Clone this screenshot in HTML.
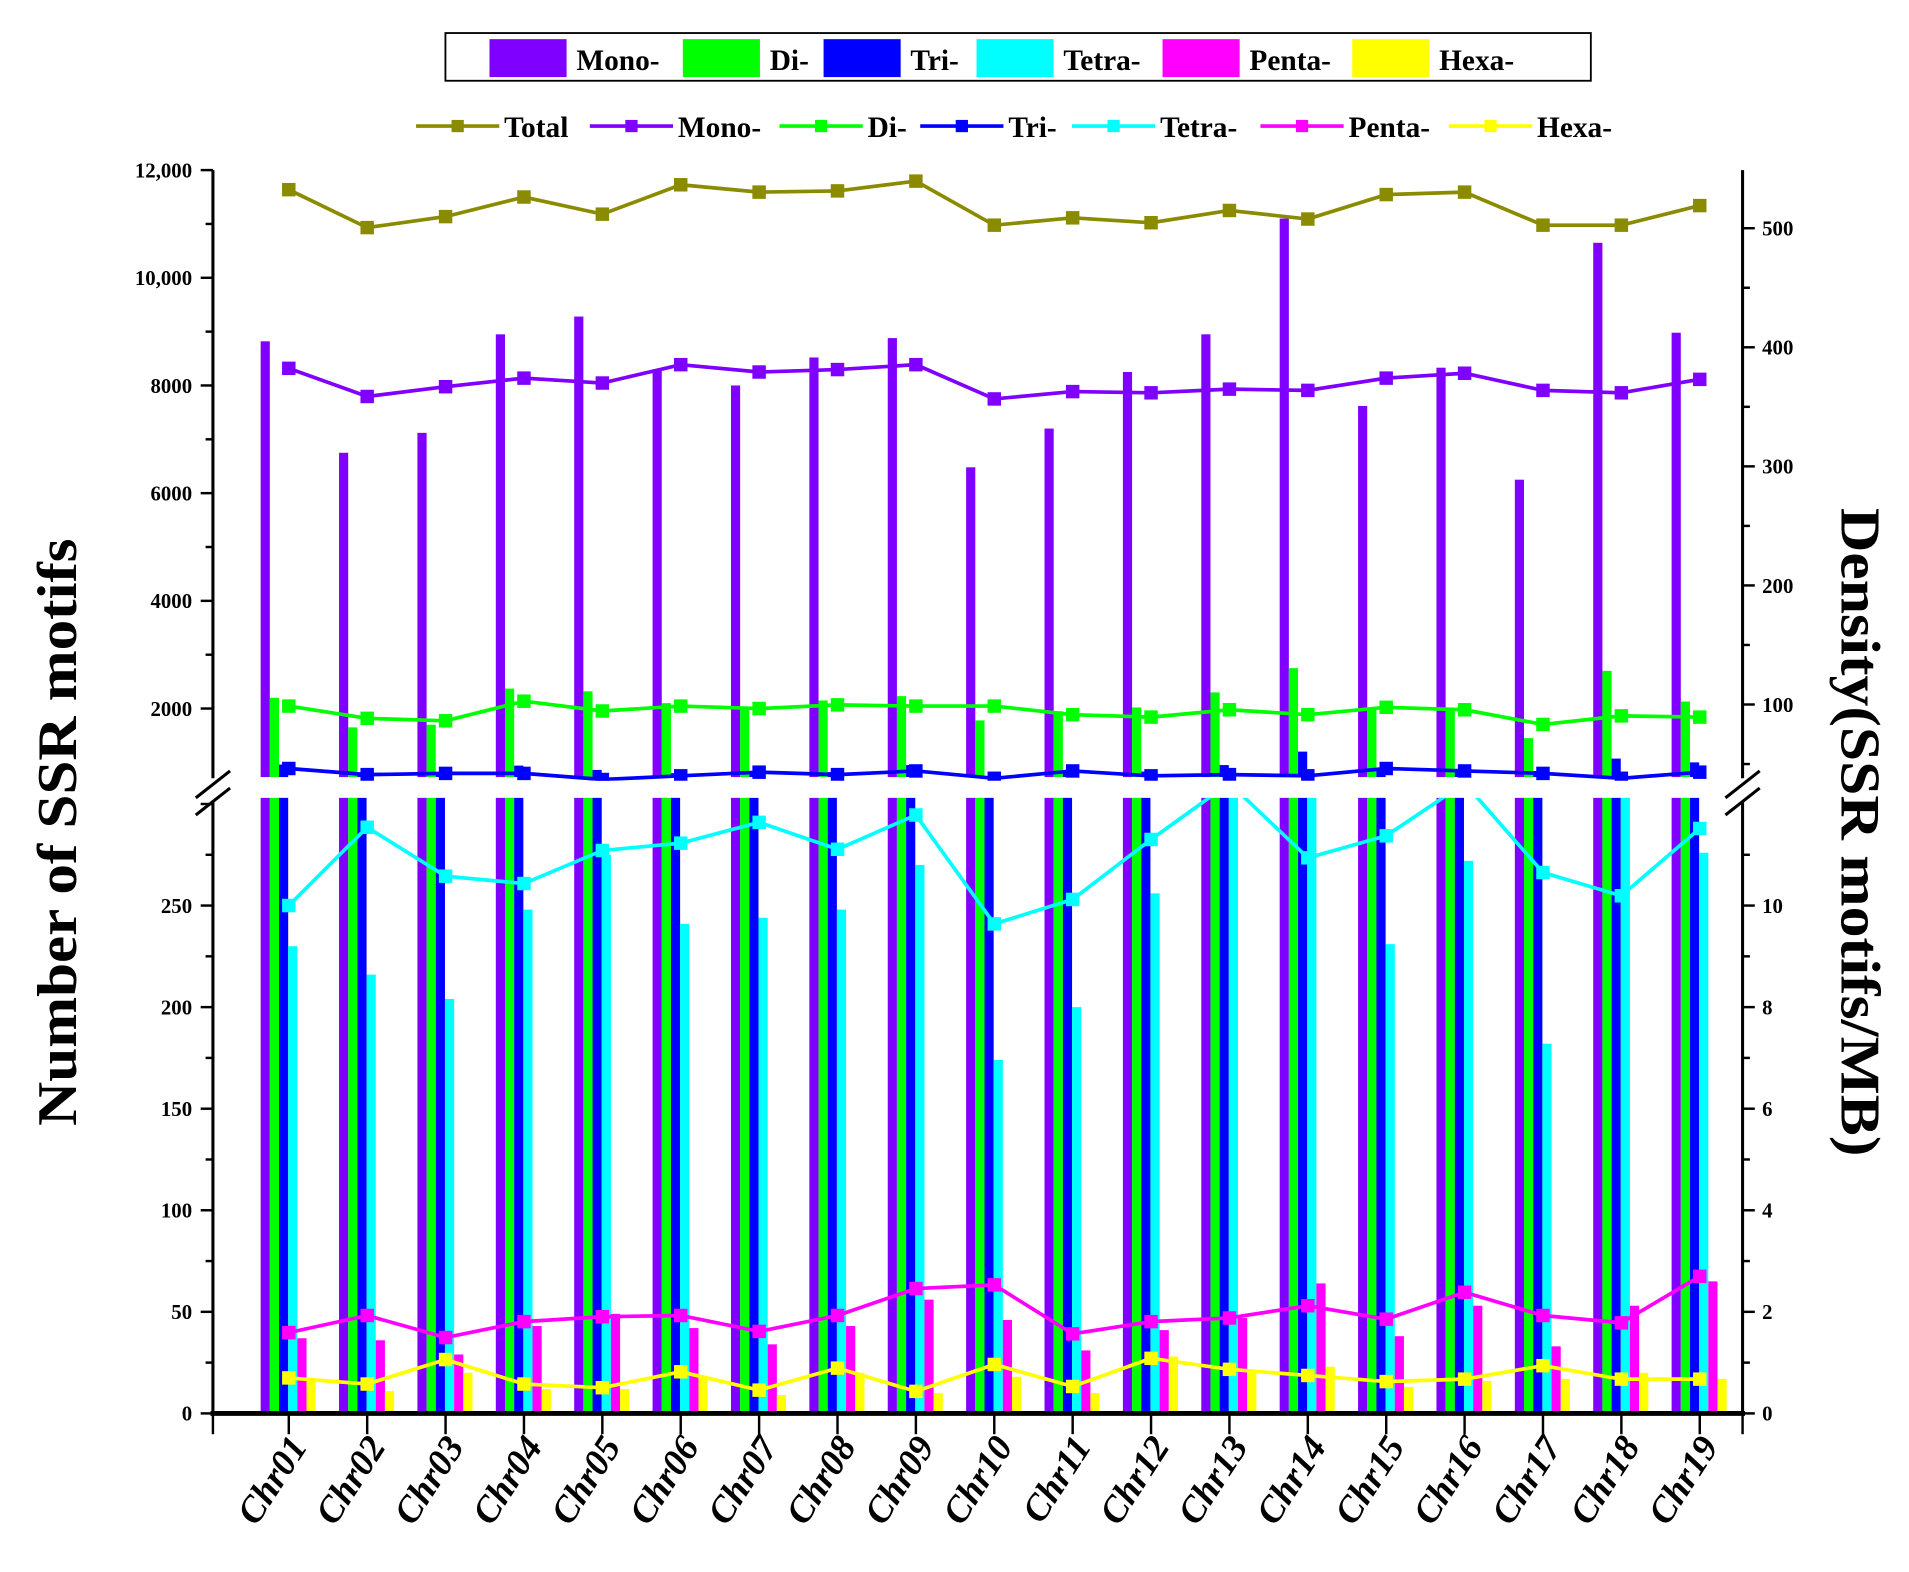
<!DOCTYPE html>
<html><head><meta charset="utf-8"><style>
html,body{margin:0;padding:0;background:#fff;}
svg{display:block;}
text{font-family:"Liberation Serif",serif;font-weight:bold;}
</style></head><body>
<svg id="s" width="1909" height="1572" viewBox="0 0 1560 1284.6" preserveAspectRatio="none" xmlns="http://www.w3.org/2000/svg"></svg>
<script>
const S=document.getElementById('s');let h='';
const C={mono:'#8000ff',di:'#00ff00',tri:'#0000ff',tetra:'#00ffff',penta:'#ff00ff',hexa:'#ffff00',total:'#8b8b00'};
h+='<rect x="364" y="27" width="936" height="39" fill="#fff" stroke="#000" stroke-width="1.5"/>';
const lg=[['mono',400,'Mono-'],['di',558,'Di-'],['tri',673,'Tri-'],['tetra',798,'Tetra-'],['penta',950,'Penta-'],['hexa',1105,'Hexa-']];
lg.forEach(l=>{h+=`<rect x="${l[1]}" y="32" width="63" height="31" fill="${C[l[0]]}"/><text x="${l[1]+71}" y="57" font-size="24">${l[2]}</text>`;});
const ll=[['total',340,'Total'],['mono',482,'Mono-'],['di',637,'Di-'],['tri',752,'Tri-'],['tetra',876,'Tetra-'],['penta',1030,'Penta-'],['hexa',1184,'Hexa-']];
ll.forEach(l=>{h+=`<line x1="${l[1]}" y1="103" x2="${l[1]+68}" y2="103" stroke="${C[l[0]]}" stroke-width="3"/><rect x="${l[1]+29}" y="98" width="10" height="10" fill="${C[l[0]]}"/><text x="${l[1]+72}" y="112" font-size="24">${l[2]}</text>`;});
const yU=v=>139+(12000-v)*88/2000; const yL=v=>1155-v*83/50;
const cx=i=>236+i*64.056;
const mono=[8820,6750,7120,8950,9280,8300,8000,8520,8880,6480,7200,8250,8950,11100,7620,8330,6250,10650,8980];
const di=[2200,1650,1700,2370,2320,2100,2020,2150,2230,1780,1950,2020,2300,2750,2000,2000,1450,2700,2130];
const tri=[960,800,820,940,860,800,840,820,950,720,850,830,950,1200,900,880,840,1070,1000];
const tetra=[230,216,204,248,275,241,244,248,270,174,200,256,400,400,231,272,182,400,276];
const penta=[37,36,29,43,49,42,34,43,56,46,31,41,47,64,38,53,33,53,65];
const hexa=[17,11,20,12,12,18,9,20,10,18,10,28,20,23,13,16,17,20,17];
const W=7.5, TOPL=652, BOTU=635;
function bar(x,v,col){
  if(v>700){h+=`<rect x="${x}" y="${TOPL}" width="${W}" height="${1155-TOPL}" fill="${col}"/>`;
    const t=yU(v);h+=`<rect x="${x}" y="${t}" width="${W}" height="${BOTU-t}" fill="${col}"/>`;}
  else{const t=Math.max(yL(v),TOPL);h+=`<rect x="${x}" y="${t}" width="${W}" height="${1155-t}" fill="${col}"/>`;}
}
for(let i=0;i<19;i++){const x0=cx(i)-23;
 [[mono,'mono'],[di,'di'],[tri,'tri'],[tetra,'tetra'],[penta,'penta'],[hexa,'hexa']].forEach((a,k)=>bar(x0+k*W,a[0][i],C[a[1]]));}
h+='<defs><clipPath id="cu"><rect x="150" y="120" width="1300" height="'+(BOTU-120+3)+'"/></clipPath><clipPath id="cl"><rect x="150" y="'+TOPL+'" width="1300" height="520"/></clipPath></defs>';
const L={total:[155,186,177,161,175,151,157,156,148,184,178,182,172,179,159,157,184,184,168],
mono:[301,324,316,309,313,298,304,302,298,326,320,321,318,319,309,305,319,321,310],
di:[577,587,589,573,581,577,579,576,577,577,584,586,580,584,578,580,592,585,586],
tri:[628,633,632,632,637,634,631,633,630,636,630,634,633,634,628,630,632,636,631],
tetra:[740,676,716,722,695,689,672,694,666,755,735,686,640,701,683,640,713,732,677],
penta:[1089,1075,1093,1080,1076,1075,1088,1075,1053,1050,1090,1080,1077,1067,1078,1056,1075,1081,1043],
hexa:[1126,1131,1111,1131,1134,1121,1136,1118,1137,1115,1133,1110,1119,1124,1129,1127,1116,1127,1127]};
Object.keys(L).forEach(k=>{const cl=['tetra','penta','hexa'].includes(k)?'cl':'cu';
 const p=L[k].map((y,i)=>cx(i)+','+y).join(' ');
 h+=`<g clip-path="url(#${cl})"><polyline points="${p}" fill="none" stroke="${C[k]}" stroke-width="3"/>`;
 L[k].forEach((y,i)=>{h+=`<rect x="${cx(i)-5.5}" y="${y-5.5}" width="11" height="11" fill="${C[k]}"/>`;});h+='</g>';});
h+=`<g stroke="#000" stroke-width="2.5" fill="none">
<line x1="174" y1="139" x2="174" y2="636"/><line x1="174" y1="655" x2="174" y2="1156"/>
<line x1="1424" y1="139" x2="1424" y2="636"/><line x1="1424" y1="655" x2="1424" y2="1156"/>
<line x1="172" y1="1155" x2="1426" y2="1155" stroke-width="4"/>
<line x1="160" y1="652" x2="188" y2="630"/><line x1="160" y1="666" x2="188" y2="644"/>
<line x1="1410" y1="652" x2="1438" y2="630"/><line x1="1410" y1="666" x2="1438" y2="644"/></g>`;
const yR=v=>673-v*0.973;
let t='<g stroke="#000" stroke-width="2">';
for(let v=2000;v<=12000;v+=1000){const y=yU(v);t+=`<line x1="${v%2000?168:164}" y1="${y}" x2="174" y2="${y}"/>`;}
for(let v=0;v<=300;v+=25){const y=yL(v);if(y<655)continue;t+=`<line x1="${v%50?168:164}" y1="${y}" x2="174" y2="${y}"/>`;}
for(let v=50;v<=550;v+=50){const y=yR(v);if(y>636||y<139)continue;t+=`<line x1="1424" y1="${y}" x2="${v%100?1430:1434}" y2="${y}"/>`;}
for(let v=0;v<=11;v+=1){const y=1155-v*41.5;if(y<655)continue;t+=`<line x1="1424" y1="${y}" x2="${v%2?1430:1434}" y2="${y}"/>`;}
t+='<line x1="174" y1="1155" x2="174" y2="1172"/><line x1="1424" y1="1155" x2="1424" y2="1172"/>';
for(let i=0;i<19;i++)t+=`<line x1="${cx(i)}" y1="1155" x2="${cx(i)}" y2="1172"/>`;
t+='</g>';h+=t;
['12,000','10,000','8000','6000','4000','2000'].forEach((s,k)=>{h+=`<text x="157" y="${139+k*88+6}" font-size="17" text-anchor="end">${s}</text>`;});
[0,50,100,150,200,250].forEach(v=>{h+=`<text x="157" y="${yL(v)+6}" font-size="17" text-anchor="end">${v}</text>`;});
[500,400,300,200,100].forEach(v=>{h+=`<text x="1440" y="${yR(v)+6}" font-size="17">${v}</text>`;});
[0,2,4,6,8,10].forEach(v=>{h+=`<text x="1440" y="${1155-v*41.5+6}" font-size="17">${v}</text>`;});
for(let i=0;i<19;i++){const n='Chr'+String(i+1).padStart(2,'0');h+=`<text transform="translate(${cx(i)+16},1182) rotate(-57)" font-size="30" font-style="italic" text-anchor="end">${n}</text>`;}
h+='<text transform="translate(62,680) rotate(-90)" font-size="46" text-anchor="middle" textLength="480" lengthAdjust="spacingAndGlyphs">Number of SSR motifs</text>';
h+='<text transform="translate(1505,680) rotate(90)" font-size="46" text-anchor="middle" textLength="530" lengthAdjust="spacingAndGlyphs">Density(SSR motifs/MB)</text>';
S.innerHTML=h;
</script>
</body></html>
